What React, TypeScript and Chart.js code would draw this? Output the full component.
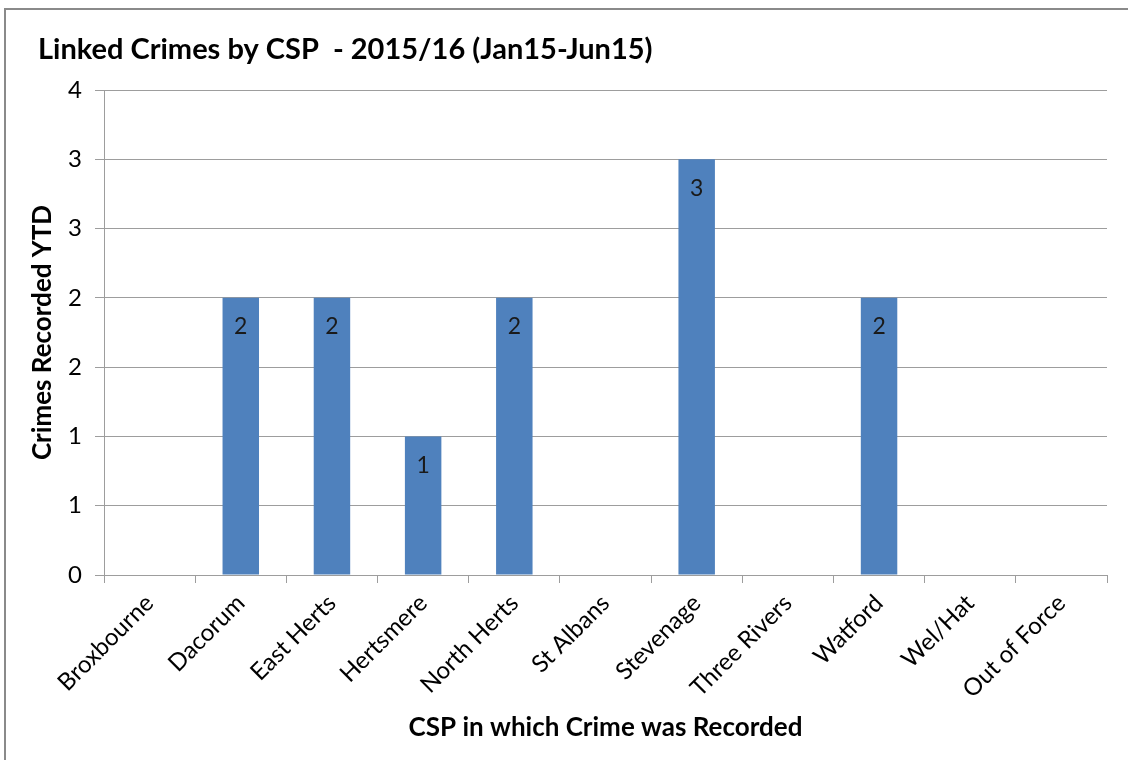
import React, { useEffect, useRef } from "react";
import { Chart, registerables } from "chart.js";

Chart.register(...registerables);

const TITLE = "Linked Crimes by CSP  - 2015/16 (Jan15-Jun15)";
const Y_TITLE = "Crimes Recorded YTD";
const X_TITLE = "CSP in which Crime was Recorded";

const categories = [
  "Broxbourne",
  "Dacorum",
  "East Herts",
  "Hertsmere",
  "North Herts",
  "St Albans",
  "Stevenage",
  "Three Rivers",
  "Watford",
  "Wel/Hat",
  "Out of Force",
];

const crimesRecorded = [0, 2, 2, 1, 2, 0, 3, 0, 2, 0, 0];

// value axis runs 0..3.5 in half steps; labels are shown with no decimals
const Y_MIN = 0;
const Y_MAX = 3.5;
const Y_STEP = 0.5;

const FONT = "Lato, 'Open Sans', 'DejaVu Sans', sans-serif";
const GRID = "#9d9d9d";
const BAR = "#4f81bd";

// writes each non-zero value just inside the top of its bar
const barValueLabels = {
  id: "barValueLabels",
  afterDatasetsDraw(chart: any) {
    const { ctx } = chart;
    const meta = chart.getDatasetMeta(0);
    const values = chart.data.datasets[0].data as number[];
    ctx.save();
    ctx.font = `23px ${FONT}`;
    ctx.fillStyle = "#1a1a1a";
    ctx.textAlign = "center";
    ctx.textBaseline = "middle";
    meta.data.forEach((bar: any, i: number) => {
      const v = values[i];
      if (!v) return;
      ctx.fillText(String(v), bar.x, bar.y + 29);
    });
    ctx.restore();
  },
};

export default function App() {
  const canvasRef = useRef<HTMLCanvasElement | null>(null);

  useEffect(() => {
    if (!canvasRef.current) return;
    const chart = new Chart(canvasRef.current, {
      type: "bar",
      data: {
        labels: categories,
        datasets: [
          {
            label: Y_TITLE,
            data: crimesRecorded,
            backgroundColor: BAR,
            borderWidth: 0,
            categoryPercentage: 1,
            barPercentage: 0.4,
          },
        ],
      },
      options: {
        animation: false,
        responsive: false,
        devicePixelRatio: 1,
        layout: { padding: { left: 38, right: 21, top: 0, bottom: 0 } },
        plugins: {
          legend: { display: false },
          tooltip: { enabled: false },
          title: {
            display: true,
            text: TITLE,
            align: "start",
            color: "#000",
            font: { family: FONT, size: 29, weight: "bold" },
            padding: { top: 32.6, bottom: 22.6 },
          },
        },
        scales: {
          x: {
            offset: true,
            grid: {
              display: true,
              offset: true,
              drawOnChartArea: false,
              drawTicks: true,
              tickLength: 8,
              color: GRID,
            },
            border: { display: true, color: GRID, width: 1 },
            ticks: {
              autoSkip: false,
              maxRotation: 45,
              minRotation: 45,
              padding: 6,
              color: "#000",
              font: { family: FONT, size: 24 },
            },
            title: {
              display: true,
              text: X_TITLE,
              color: "#000",
              font: { family: FONT, size: 26, weight: "bold" },
              padding: { top: 0, bottom: 16.4 },
            },
            afterFit(scale: any) {
              scale.height = 185;
            },
          },
          y: {
            min: Y_MIN,
            max: Y_MAX,
            grid: {
              color: GRID,
              tickLength: 9,
              drawTicks: true,
            },
            border: { display: true, color: GRID, width: 1 },
            ticks: {
              stepSize: Y_STEP,
              padding: 13,
              color: "#000",
              font: { family: FONT, size: 24 },
              callback: (v: any) => String(Math.round(Number(v))),
            },
            title: {
              display: true,
              text: Y_TITLE,
              color: "#000",
              font: { family: FONT, size: 26, weight: "bold" },
              padding: { top: -10.6, bottom: 0 },
            },
            afterFit(scale: any) {
              scale.width = 66;
            },
          },
        },
      },
      plugins: [barValueLabels],
    });
    return () => chart.destroy();
  }, []);

  return (
    <div
      style={{
        position: "fixed",
        left: 0,
        top: 0,
        width: 1128,
        height: 760,
        background: "#fff",
        overflow: "hidden",
      }}
    >
      <div
        style={{
          position: "absolute",
          left: 4,
          top: 8,
          right: -10,
          bottom: -10,
          borderLeft: "2px solid #8a8a8a",
          borderTop: "2px solid #8a8a8a",
        }}
      />
      <canvas
        ref={canvasRef}
        width={1128}
        height={760}
        style={{ position: "absolute", left: 0, top: 0, width: 1128, height: 760 }}
      />
    </div>
  );
}
